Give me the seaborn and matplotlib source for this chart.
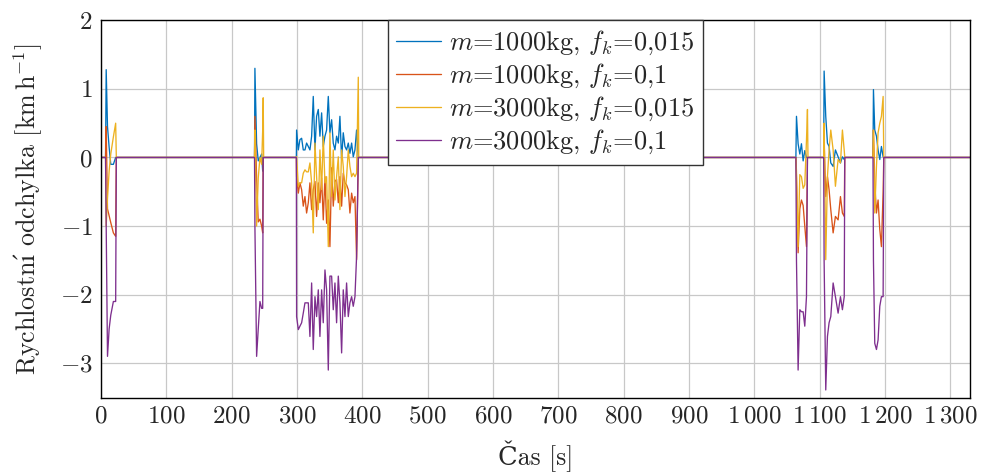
import matplotlib
matplotlib.use("Agg")
import matplotlib.pyplot as plt
import seaborn as sns
import pandas as pd

# ---------------- data ----------------
time_s = [0,
          7.0, 8.0, 10.0, 12.5, 15.0, 19.0, 22.5, 23.5,
          235.0, 235.6, 238.2, 240.7, 243.3, 245.9, 247.5, 248.3, 249.0,
          299.0, 299.4, 302.0, 304.5, 307.1, 309.6, 312.2, 314.7, 317.3, 319.8, 322.4,
          324.9, 327.5, 330.0, 332.6, 335.1, 337.7, 340.2, 342.8, 345.3, 347.9,
          350.4, 353.0, 355.5, 358.1, 360.6, 363.2, 365.7, 368.3, 370.8, 373.4,
          375.9, 378.5, 381.0, 383.6, 386.1, 388.7, 391.2, 393.8, 394.5,
          1063.5, 1064.4, 1066.9, 1069.5, 1072.0, 1074.6, 1077.1, 1079.7, 1081.2, 1082.0,
          1106.0, 1106.7, 1109.2, 1111.8, 1114.3, 1116.9, 1120.5, 1124.0, 1128.1, 1131.7,
          1134.7, 1137.5, 1138.3,
          1181.5, 1182.2, 1184.2, 1186.8, 1189.3, 1191.9, 1194.4, 1197.0, 1198.0,
          1330]

dv_m1000_f0015 = [0,
          0, 1.28, 0.45, 0.15, -0.10, -0.10, 0.00, 0,
          0, 1.30, 0.20, -0.05, 0.00, 0.05, -0.20, 0.00, 0,
          0, 0.40, 0.11, 0.26, 0.28, 0.11, 0.11, 0.21, 0.16, 0.11, 0.31,
          0.89, 0.11, 0.60, 0.70, 0.31, 0.65, 0.16, 0.31, 0.40, 0.89,
          0.36, 0.55, 0.21, 0.11, 0.31, 0.21, 0.60, -0.03, 0.36, 0.16,
          0.11, 0.21, 0.06, 0.21, 0.01, 0.11, 0.40, 0.00, 0,
          0, 0.60, 0.20, 0.05, 0.20, -0.05, 0.10, 0.00, 0.00, 0,
          0, 1.26, 0.60, 0.21, 0.16, -0.08, -0.13, 0.11, 0.01, -0.08,
          0.01, -0.03, 0,
          0, 0.99, 0.40, 0.31, 0.11, -0.03, 0.16, 0.01, 0,
          0]

dv_m1000_f01 = [0,
          0, 0.45, -0.75, -0.85, -0.95, -1.10, -1.15, 0,
          0, 0.60, -0.30, -0.94, -0.90, -1.00, -1.10, 0.00, 0,
          0, -0.28, -0.52, -0.37, -0.47, -0.71, -0.57, -0.81, -0.66, -0.37, -0.76,
          -0.47, -0.35, -0.86, -0.37, -0.66, -0.30, -0.91, -0.28, -0.96, -0.62,
          -1.30, -0.15, -0.71, -0.35, -0.32, -0.66, -0.28, -0.71, -0.23, -0.37,
          -0.40, -0.47, -0.81, -0.52, -0.66, -0.57, -1.49, 0.00, 0,
          0, -0.30, -1.39, -0.75, -0.62, -0.70, -1.00, -1.30, 0.00, 0,
          0, 0.25, -0.57, -0.28, -0.47, -0.76, -1.10, -0.86, -0.91, -0.57,
          -0.81, -0.86, 0,
          0, 0.40, -0.37, -0.81, -0.62, -1.05, -1.30, -0.50, 0,
          0]

dv_m3000_f0015 = [0,
          0, -1.00, -0.60, -0.20, 0.05, 0.30, 0.50, 0,
          0, 0.40, -1.00, -0.30, 0.00, -0.10, 0.40, 0.87, 0,
          0, 0.01, -0.42, -0.37, -0.37, -0.23, -0.18, -0.21, -0.21, -0.08, -0.37,
          -1.10, 0.21, -0.28, -0.76, 0.11, -0.47, 0.31, -0.37, -0.28, -1.30,
          0.36, -0.57, 0.11, -0.62, -0.28, 0.01, -0.76, 0.11, -0.13, -0.57,
          -0.28, 0.11, -0.13, -0.28, -0.23, -0.28, -0.23, 1.17, 0,
          0, -0.20, -1.30, -0.25, -0.28, -0.45, -0.40, 0.25, 0.70, 0,
          0, 0.50, -1.49, -0.28, 0.11, 0.40, 0.11, -0.42, -0.03, -0.08,
          0.40, 0.10, 0,
          0, 0.40, -0.81, -0.13, 0.36, 0.50, 0.60, 0.89, 0,
          0]

dv_m3000_f01 = [0,
          0, -1.00, -2.90, -2.50, -2.30, -2.10, -2.10, 0,
          0, -1.00, -2.90, -2.50, -2.10, -2.20, -2.20, 0.00, 0,
          0, -2.32, -2.51, -2.46, -2.41, -2.27, -2.12, -2.12, -2.12, -2.61, -1.83,
          -2.80, -2.03, -2.32, -1.93, -2.61, -1.93, -2.41, -1.64, -1.93, -3.10,
          -1.73, -1.73, -2.22, -1.83, -2.41, -1.73, -2.12, -2.85, -1.93, -2.32,
          -1.83, -2.32, -2.12, -2.03, -2.17, -2.03, -1.44, 0.00, 0,
          0, -1.50, -3.10, -2.22, -2.25, -2.25, -2.46, -2.03, 0.00, 0,
          0, -1.50, -3.39, -2.61, -2.41, -2.32, -1.83, -2.03, -2.27, -2.03,
          -2.22, -2.03, 0,
          0, -1.50, -2.71, -2.80, -2.66, -2.17, -2.03, -2.03, 0,
          0]

series_labels = [r'$m$=1000kg, $f_k$=0,015',
                 r'$m$=1000kg, $f_k$=0,1',
                 r'$m$=3000kg, $f_k$=0,015',
                 r'$m$=3000kg, $f_k$=0,1']
series_values = [dv_m1000_f0015, dv_m1000_f01, dv_m3000_f0015, dv_m3000_f01]
series_colors = ['#0072BD', '#D95319', '#EDB120', '#7E2F8E']

xtick_values = [0, 100, 200, 300, 400, 500, 600, 700, 800, 900, 1000, 1100, 1200, 1300]
xtick_labels = ['$0$', '$100$', '$200$', '$300$', '$400$', '$500$', '$600$', '$700$',
                '$800$', '$900$', r'$1\,000$', r'$1\,100$', r'$1\,200$', r'$1\,300$']
ytick_values = [-3, -2, -1, 0, 1, 2]
ytick_labels = ['$-3$', '$-2$', '$-1$', '$0$', '$1$', '$2$']

x_label = 'Čas [s]'
y_label = r'Rychlostn$\mathrm{\acute{ı}}$ odchylka [km$\,$h$^{-1}$]'

# ---------------- style ----------------
sns.set_style('white')
plt.rcParams['font.family'] = ['cmr10', 'DejaVu Serif']
plt.rcParams['mathtext.fontset'] = 'cm'
plt.rcParams['axes.unicode_minus'] = True
plt.rcParams['axes.formatter.use_mathtext'] = True

fig = plt.figure(figsize=(9.85, 4.75), dpi=100)
ax = fig.add_axes([0.1025, 77.5 / 475, 0.8823, 0.7941])

for lab, vals, col in zip(series_labels, series_values, series_colors):
    df = pd.DataFrame({'t': time_s, 'v': vals})
    sns.lineplot(data=df, x='t', y='v', ax=ax, color=col, lw=0.95,
                 label=lab, estimator=None, sort=False)

ax.set_xlim(0, 1330)
ax.set_ylim(-3.5, 2)
ax.set_xticks(xtick_values)
ax.set_xticklabels(xtick_labels)
ax.set_yticks(ytick_values)
ax.set_yticklabels(ytick_labels)
ax.tick_params(axis='both', labelsize=18, direction='in', length=3,
               color='#888888', pad=6)
ax.grid(True, color='#c8c8c8', lw=0.9)
ax.set_axisbelow(True)
for s in ax.spines.values():
    s.set_color('black')
    s.set_linewidth(1.0)

ax.set_xlabel(x_label, fontsize=18.5, labelpad=9)
ax.set_ylabel(y_label, fontsize=18.7, labelpad=11)

leg = ax.legend(loc='upper left', bbox_to_anchor=(0.330, 1.0), borderaxespad=0,
                fontsize=19, frameon=True, fancybox=False, framealpha=1,
                edgecolor='#333333', handlelength=1.7, labelspacing=0.18,
                handletextpad=0.3, borderpad=0.32)
leg.get_frame().set_linewidth(1.0)

fig.savefig('out.png', dpi=100)
